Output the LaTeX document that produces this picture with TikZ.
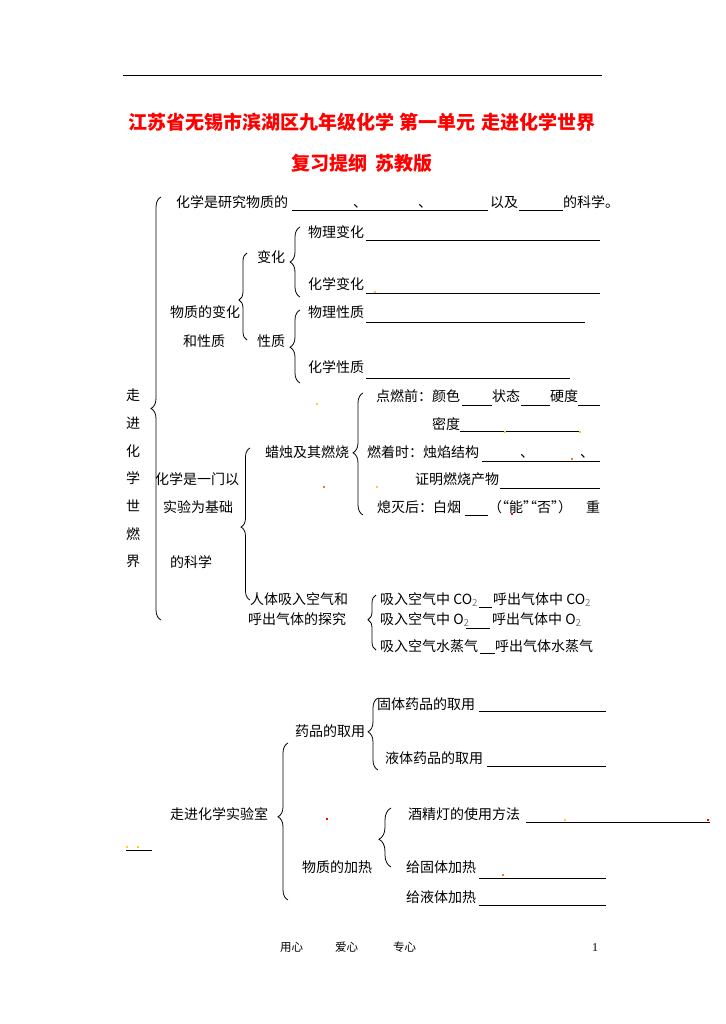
\documentclass[tikz,border=0pt]{standalone}
\usepackage{fontspec}
\setmainfont{Noto Sans CJK SC}
\newfontfamily\pagenumfont{Liberation Serif}
\usepackage{xcolor}
\usetikzlibrary{decorations.pathreplacing}
\definecolor{TitleRed}{RGB}{255,0,0}
\definecolor{SpeckYellow}{RGB}{255,205,40}
\definecolor{SpeckOrange}{RGB}{250,120,20}
\newcommand{\openq}{\makebox[7pt][r]{“}}
\newcommand{\closeq}{\makebox[7pt][l]{”}}
\tikzset{
  txt/.style={anchor=west, inner sep=0pt, font=\fontsize{14}{14}\selectfont, text height=11pt, text depth=3pt},
  blankline/.style={line width=0.8pt},
  brc/.style={decorate, line width=0.8pt, decoration={brace}},
  speck/.style={fill=#1}
}

\begin{document}
\begin{tikzpicture}[x=1pt, y=-1pt]
  \fill[white] (0,0) rectangle (725,1024);
  \useasboundingbox (0,0) rectangle (725,1024);

  \draw[line width=0.8pt] (123,75) -- (602,75);
  \node[inner sep=0pt, font=\fontsize{19}{19}\selectfont\bfseries, text=TitleRed] (title) at (362,122)
    {江苏省无锡市滨湖区九年级化学\hspace{6pt}第一单元\hspace{6pt}走进化学世界};
  \node[inner sep=0pt, font=\fontsize{19}{19}\selectfont\bfseries, text=TitleRed] (subtitle) at (362,163)
    {复习提纲\hspace{8pt}苏教版};

  \foreach \c [count=\i] in {走,进,化,学,世,燃,界}
    \node[txt, anchor=center] (col-\i) at (133,{369+\i*27.7}) {\c};

  \foreach \nm/\x/\y/\t in {
    def/176/204/化学是研究物质的, dunA/353/204/、, dunB/418/204/、,
    yiji/490/204/以及, kxA/563/204/的科学。,
    wlbh/308/233/物理变化, bh/257/258/变化, hxbh/308/285/化学变化,
    wzbhA/170/313/物质的变化, wlxz/308/313/物理性质,
    wzbhB/183/342/和性质, xz/257/342/性质, hxxz/308/368/化学性质,
    djq/376/397/点燃前：颜色, zt/492/397/状态, yd/550/397/硬度,
    md/432/425/密度,
    lzjq/265/453/蜡烛及其燃烧, rzs/367/453/燃着时：烛焰结构,
    dunC/520/453/、, dunD/580/453/、,
    hxsy/155/480/化学是一门以, zmcw/415/480/证明燃烧产物,
    syjc/163/508/实验为基础, xmh/377/508/熄灭后：白烟,
    nf/488/508/{（\openq 能\closeq\openq 否\closeq ）}, zhong/586/508/重,
    dkx/170/563/的科学,
    rtxrA/250/600/人体吸入空气和,
    co2A/380/600/{吸入空气中 CO\textsubscript{\color{gray}2}},
    co2B/493/600/{呼出气体中 CO\textsubscript{\color{gray}2}},
    rtxrB/248/620/呼出气体的探究,
    o2A/380/620/{吸入空气中 O\textsubscript{\color{gray}2}},
    o2B/492/620/{呼出气体中 O\textsubscript{\color{gray}2}},
    h2oA/380/647/吸入空气水蒸气, h2oB/495/647/呼出气体水蒸气,
    gtyp/377/705/固体药品的取用, yp/295/732/药品的取用,
    ytyp/385/759/液体药品的取用,
    zjsys/170/815/走进化学实验室, jjd/408/815/酒精灯的使用方法,
    wzjr/302/868/物质的加热, gtjr/406/868/给固体加热,
    gyjr/406/898/给液体加热}
    \node[txt] (\nm) at (\x,\y) {\t};

  \foreach \xa/\xb/\y in {
    292/488/210, 519/563/210, 366/600/240, 366/600/293, 366/585/322,
    366/570/378, 462/492/405, 521/550/405, 578/600/405, 460/581/431,
    482/600/461, 500/600/488, 465/488/515, 479/492/607, 466/490/628,
    480/495/653, 479/606/711, 487/606/766, 526/710/822, 479/606/878,
    479/606/905, 126/152/850}
    \draw[blankline] (\xa,\y) -- (\xb,\y);

  \foreach \bx/\ya/\yb/\asp/\amp in {
    161/197/620/0.50/10, 247/253/340/0.46/8, 300/227/297/0.50/10,
    300/310/383/0.49/10, 363/393/515/0.51/10, 250/448/600/0.48/9,
    376/595/650/0.55/8, 378/698/770/0.53/10, 288/743/900/0.53/10,
    391/808/867/0.47/12}
    \draw[brc, decoration={aspect=\asp, amplitude=\amp pt}] (\bx,\yb) -- (\bx,\ya);

  \foreach \x/\y/\c in {
    374/291/SpeckYellow, 316/403/SpeckYellow, 504/431/SpeckYellow,
    579/431/SpeckYellow, 571/458/SpeckOrange, 323/486/SpeckOrange,
    376/486/SpeckYellow, 511/513/red, 326/818/red, 564/819/SpeckYellow,
    707/819/red, 502/874/SpeckOrange, 126/846/SpeckYellow, 137/846/SpeckYellow}
    \fill[speck=\c] (\x,\y) rectangle ++(2,2);

  \node[txt, font=\fontsize{11.5}{11.5}\selectfont] (ftA) at (280,947) {用心};
  \node[txt, font=\fontsize{11.5}{11.5}\selectfont] (ftB) at (335,947) {爱心};
  \node[txt, font=\fontsize{11.5}{11.5}\selectfont] (ftC) at (393,947) {专心};
  \node[txt, font=\pagenumfont\fontsize{12}{12}\selectfont] (pg) at (592,947) {1};
\end{tikzpicture}
\end{document}
